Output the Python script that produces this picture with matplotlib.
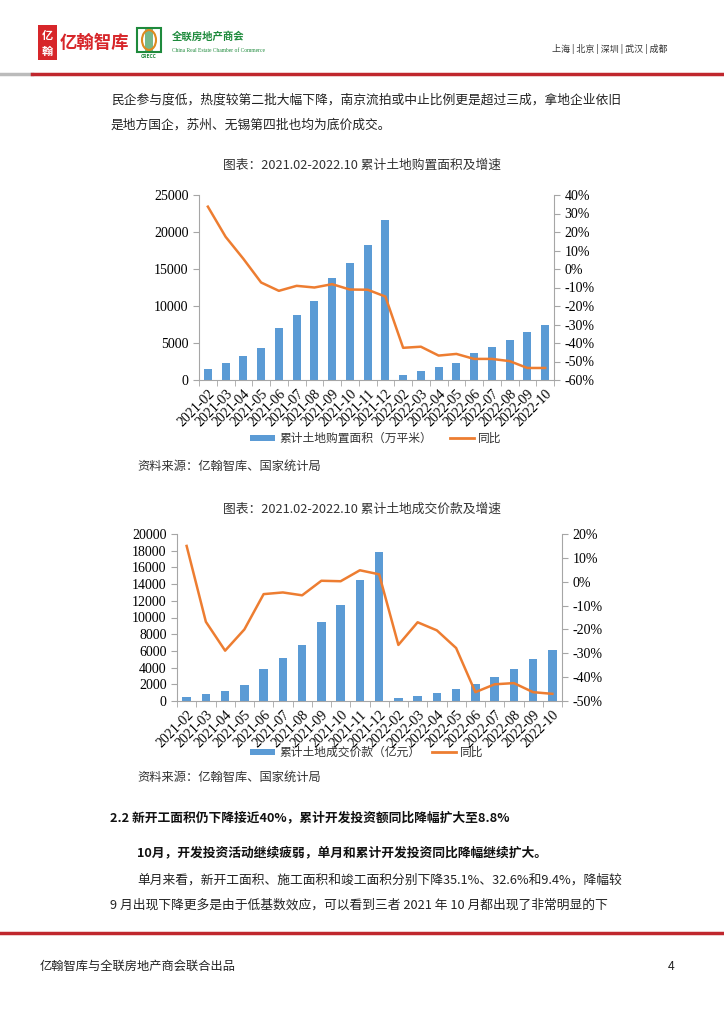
import numpy as np
import matplotlib
matplotlib.use("Agg")
import matplotlib.pyplot as plt
from matplotlib.patches import Rectangle, Circle
from matplotlib.lines import Line2D
from matplotlib.ticker import FixedLocator

plt.rcParams['font.family'] = ['Noto Sans CJK SC', 'DejaVu Sans']

months = ["2021-02", "2021-03", "2021-04", "2021-05", "2021-06", "2021-07",
          "2021-08", "2021-09", "2021-10", "2021-11", "2021-12", "2022-02",
          "2022-03", "2022-04", "2022-05", "2022-06", "2022-07", "2022-08",
          "2022-09", "2022-10"]

# chart 1: 累计土地购置面积（万平米） and 同比 (%)
land_area = [1450, 2250, 3240, 4320, 7000, 8740, 10700, 13780, 15800, 18280,
             21580, 720, 1260, 1710, 2340, 3600, 4500, 5360, 6440, 7430]
land_area_yoy = [33.7, 17.4, 5.5, -7.3, -11.8, -9.1, -10.0, -8.2, -11.1, -11.2,
                 -14.9, -42.6, -42.0, -46.8, -45.9, -48.6, -48.6, -49.8, -53.5, -53.5]

# chart 2: 累计土地成交价款（亿元） and 同比 (%)
land_price = [480, 800, 1200, 1920, 3830, 5110, 6700, 9420, 11540, 14500,
              17840, 320, 640, 960, 1400, 2080, 2920, 3830, 5030, 6100]
land_price_yoy = [15.0, -16.8, -28.9, -20.0, -5.2, -4.5, -5.7, 0.4, 0.2, 4.8,
                  3.1, -26.5, -17.0, -20.4, -27.8, -46.3, -43.0, -42.5, -46.3, -47.0]

BLUE = "#5B9BD5"
ORANGE = "#ED7D31"
GRID = "#A6A6A6"
W, H = 724, 1024

fig = plt.figure(figsize=(W / 100, H / 100), dpi=100)
fig.patch.set_facecolor("white")


def px(x, y):
    return x / W, 1 - y / H


def ftext(x, y, s, **kw):
    kw.setdefault("va", "center")
    kw.setdefault("ha", "left")
    kw.setdefault("fontsize", 9)
    kw.setdefault("color", "#222222")
    fig.text(*px(x, y), s, **kw)


# ---- header ----
fig.patches.append(Rectangle(px(38, 60), 19 / W, 35 / H, transform=fig.transFigure,
                             facecolor="#D7262A", edgecolor="none"))
ftext(47.5, 35, "亿", color="white", fontsize=8, ha="center", fontweight="bold")
ftext(47.5, 51, "翰", color="white", fontsize=8, ha="center", fontweight="bold")
ftext(60, 43, "亿翰智库", color="#D7262A", fontsize=12.5, fontweight="bold")
# CRECC logo
fig.patches.append(Rectangle(px(137, 52), 24 / W, 24 / H, transform=fig.transFigure,
                             facecolor="none", edgecolor="#1E8A3C", lw=1.5))
fig.patches.append(Rectangle(px(145, 52), 8 / W, 24 / H, transform=fig.transFigure,
                             facecolor="#1E8A3C", edgecolor="none", alpha=0.6))
fig.patches.append(Circle(px(149, 40), 7 / W, transform=fig.transFigure,
                          facecolor="none", edgecolor="#E08A1E", lw=1.5))
ftext(149, 56, "CRECC", fontsize=3.5, color="#1E8A3C", ha="center", fontweight="bold")
ftext(172, 37, "全联房地产商会", fontsize=7.5, color="#1E8A3C", fontweight="bold")
ftext(172, 50, "China Real Estate Chamber of Commerce", fontsize=4, color="#1E8A3C",
      family=["Liberation Serif"])
ftext(668, 49, "上海 | 北京 | 深圳 | 武汉 | 成都", fontsize=6.5, color="#333333", ha="right")

fig.add_artist(Line2D([0, 32 / W], [1 - 73.5 / H] * 2, color="#BBBBBB", lw=2.5,
                      transform=fig.transFigure))
fig.add_artist(Line2D([32 / W, 1], [1 - 73.5 / H] * 2, color="#C0272D", lw=2.5,
                      transform=fig.transFigure))

ftext(111, 100, "民企参与度低，热度较第二批大幅下降，南京流拍或中止比例更是超过三成，拿地企业依旧",
      fontsize=9.2)
ftext(111, 125, "是地方国企，苏州、无锡第四批也均为底价成交。", fontsize=9.2)

# ---- charts ----
def draw_chart(rect, bars, yoy, lmax, lstep, rmin, rmax, title, title_y,
               legend_y, legend_items, source_y):
    ax = fig.add_axes(rect)
    x = np.arange(len(months))
    ax.bar(x, bars, width=0.45, color=BLUE, zorder=2)
    ax.set_xlim(-0.5, len(months) - 0.5)
    ax.set_ylim(0, lmax)
    ax.set_yticks(np.arange(0, lmax + 1, lstep))
    ax.set_xticks(x)
    ax.set_xticklabels(months, rotation=45, ha="right", rotation_mode="anchor",
                       fontsize=10, family=["Liberation Serif"])
    ax.xaxis.set_minor_locator(FixedLocator(np.arange(-0.5, len(months), 1)))
    ax.tick_params(axis="x", which="major", length=0, pad=5)
    ax.tick_params(axis="x", which="minor", length=4, color=GRID)
    ax.tick_params(axis="y", length=4, color=GRID, labelsize=10)
    for lab in ax.get_yticklabels():
        lab.set_family(["Liberation Serif"])
    for s in ["top", "right"]:
        ax.spines[s].set_visible(False)
    for s in ["left", "bottom"]:
        ax.spines[s].set_color(GRID)

    ax2 = ax.twinx()
    ax2.plot(x, yoy, color=ORANGE, lw=1.8, zorder=3)
    ax2.set_ylim(rmin, rmax)
    ticks = np.arange(rmin, rmax + 1, 10)
    ax2.set_yticks(ticks)
    ax2.set_yticklabels([f"{t}%" for t in ticks], fontsize=10, family=["Liberation Serif"])
    ax2.tick_params(axis="y", length=4, color=GRID)
    for s in ["top", "left", "bottom"]:
        ax2.spines[s].set_visible(False)
    ax2.spines["right"].set_color(GRID)

    ftext(362, title_y, title, fontsize=9.2, ha="center", color="#333333")
    (bx, btxt, lx, ltxt) = legend_items
    fig.patches.append(Rectangle(px(bx, legend_y + 3), 25 / W, 6 / H,
                                 transform=fig.transFigure, facecolor=BLUE, edgecolor="none"))
    ftext(bx + 29, legend_y, btxt, fontsize=8.5, color="#333333")
    fig.add_artist(Line2D([lx / W, (lx + 24) / W], [1 - legend_y / H] * 2, color=ORANGE,
                          lw=2, transform=fig.transFigure))
    ftext(lx + 28, legend_y, ltxt, fontsize=8.5, color="#333333")
    ftext(137, source_y, "资料来源：亿翰智库、国家统计局", fontsize=8.8, color="#333333")


draw_chart([px(199, 380)[0], px(199, 380)[1], 355 / W, 185 / H],
           land_area, land_area_yoy, 25000, 5000, -60, 40,
           "图表：2021.02-2022.10 累计土地购置面积及增速", 165,
           438, (250, "累计土地购置面积（万平米）", 450, "同比"), 466)

draw_chart([px(177, 701)[0], px(177, 701)[1], 385 / W, 167 / H],
           land_price, land_price_yoy, 20000, 2000, -50, 20,
           "图表：2021.02-2022.10 累计土地成交价款及增速", 509,
           752, (250, "累计土地成交价款（亿元）", 432, "同比"), 777)

# ---- body text below ----
ftext(110, 818, "2.2 新开工面积仍下降接近40%，累计开发投资额同比降幅扩大至8.8%",
      fontsize=9.2, fontweight="bold", color="#111111")
ftext(137, 853, "10月，开发投资活动继续疲弱，单月和累计开发投资同比降幅继续扩大。",
      fontsize=9.2, fontweight="bold", color="#111111")
ftext(137, 880, "单月来看，新开工面积、施工面积和竣工面积分别下降35.1%、32.6%和9.4%，降幅较",
      fontsize=9.2)
ftext(110, 905, "9 月出现下降更多是由于低基数效应，可以看到三者 2021 年 10 月都出现了非常明显的下",
      fontsize=9.2)
fig.add_artist(Line2D([0, 1], [1 - 933 / H] * 2, color="#C0272D", lw=2.5,
                      transform=fig.transFigure))
ftext(40, 966, "亿翰智库与全联房地产商会联合出品", fontsize=8.8)
ftext(668, 966, "4", fontsize=8.8)

fig.savefig("out.png", dpi=100)
